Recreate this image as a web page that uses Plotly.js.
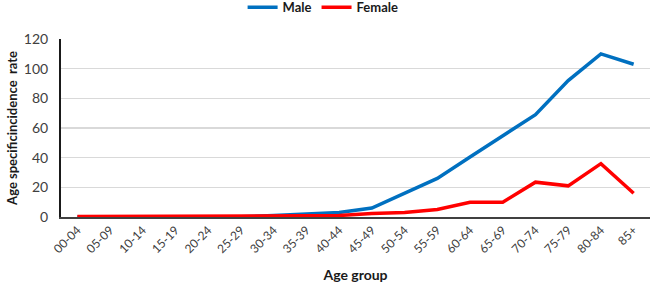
<!DOCTYPE html>
<html>
<head>
<meta charset="utf-8">
<script src="https://cdn.plot.ly/plotly-3.0.1.min.js"></script>
<style>
  html, body { margin: 0; padding: 0; background: #fff; }
  #chart { width: 650px; height: 290px; }
</style>
</head>
<body>
<div id="chart"></div>
<script>
// Age groups on the x axis
const ageGroups = ['00-04','05-09','10-14','15-19','20-24','25-29','30-34','35-39','40-44',
                   '45-49','50-54','55-59','60-64','65-69','70-74','75-79','80-84','85+'];

// Age specific incidence rate by sex
const maleRate   = [0, 0, 0, 0, 0.3, 0.2, 1, 2.2, 3, 6, 16, 26, 40.5, 55, 69, 92, 110, 103];
const femaleRate = [0.3, 0.3, 0.3, 0.3, 0.8, 0.4, 0.6, 0.8, 1, 2.4, 3, 5, 10, 10, 23.5, 21, 36, 16];

const yTicks = [0, 20, 40, 60, 80, 100, 120];

const fontFamily = 'Lato, "Open Sans", "Liberation Sans", sans-serif';

const traces = [
  { x: ageGroups, y: maleRate, name: 'Male', type: 'scatter', mode: 'lines',
    line: { color: '#0070C0', width: 3.5 } },
  { x: ageGroups, y: femaleRate, name: 'Female', type: 'scatter', mode: 'lines',
    line: { color: '#FF0000', width: 3.5 } }
];

const layout = {
  width: 650, height: 290,
  margin: { l: 61, r: 0, t: 39, b: 73, autoexpand: false },
  paper_bgcolor: '#fff', plot_bgcolor: '#fff',
  font: { family: fontFamily, color: '#404040' },
  showlegend: true,
  legend: {
    orientation: 'h', x: 0.445, xanchor: 'center',
    yref: 'container', y: 0.975, yanchor: 'middle',
    font: { family: fontFamily, size: 13, color: '#1a1a1a', weight: 'bold' },
    itemwidth: 30, tracegroupgap: 0, bgcolor: 'rgba(0,0,0,0)'
  },
  xaxis: {
    type: 'category',
    range: [-0.5, ageGroups.length - 0.5],
    tickangle: -45,
    tickfont: { family: fontFamily, size: 12, color: '#404040' },
    showgrid: false, zeroline: false,
    showline: true, linecolor: '#404040', linewidth: 1.5,
    ticks: '',
    title: { text: 'Age group', font: { family: fontFamily, size: 14, color: '#1a1a1a', weight: 'bold' }, standoff: 15 }
  },
  yaxis: {
    range: [0, 120],
    tickvals: yTicks,
    tickfont: { family: fontFamily, size: 14, color: '#404040' },
    ticklabelstandoff: 8,
    showgrid: true, gridcolor: '#d9d9d9', gridwidth: 1.3,
    zeroline: false,
    showline: true, linecolor: '#1a1a1a', linewidth: 2,
    ticks: '', ticklen: 0,
    title: { text: 'Age specificincidence&nbsp;&nbsp;rate', font: { family: fontFamily, size: 13, color: '#1a1a1a', weight: 'bold' }, standoff: 3 }
  }
};

Plotly.newPlot('chart', traces, layout, { displayModeBar: false, staticPlot: true });
</script>
</body>
</html>
